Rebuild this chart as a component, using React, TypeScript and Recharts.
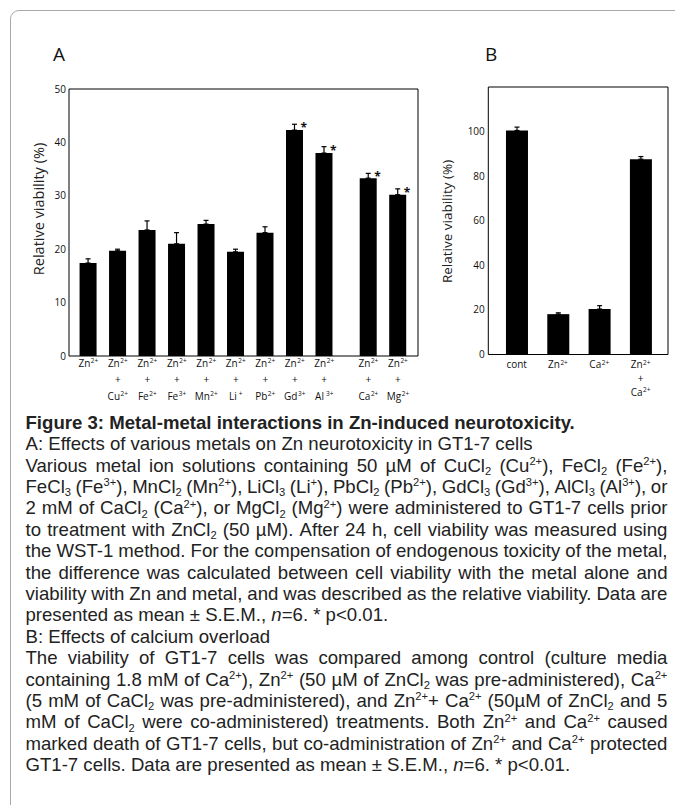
import React from "react";
import { ComposedChart, Bar, ErrorBar, XAxis, YAxis, Scatter, ReferenceLine } from "recharts";

// Panel A: Zn2+ alone or with a second metal
const posA = [0, 1, 2, 3, 4, 5, 6, 7, 8, 9.5, 10.5];
const ionsA = ["", "Cu", "Fe", "Fe", "Mn", "Li", "Pb", "Gd", "Al", "Ca", "Mg"];
const chargesA = ["", "2+", "2+", "3+", "2+", "+", "2+", "3+", "3+", "2+", "2+"];
const meanA = [17.4, 19.7, 23.6, 21.0, 24.7, 19.5, 23.1, 42.3, 38.0, 33.3, 30.2];
const semA = [0.8, 0.3, 1.7, 2.1, 0.7, 0.5, 1.1, 1.1, 1.2, 0.9, 1.1];
const starA = [false, false, false, false, false, false, false, true, true, true, true];
const yTicksA = [0, 10, 20, 30, 40, 50];

// Panel B: calcium overload
const posB = [0, 1, 2, 3];
const labelsB = ["cont", "Zn", "Ca", "Zn"];
const chargesB = ["", "2+", "2+", "2+"];
const meanB = [100.5, 18.1, 20.4, 87.6];
const semB = [1.5, 0.6, 1.5, 1.2];
const yTicksB = [0, 20, 40, 60, 80, 100];
const yTicksBFrame = [0, 20, 40, 60, 80, 100, 120];

const captionLines: [string, string][] = [
  ["Figure 3: Metal-metal interactions in Zn-induced neurotoxicity.", "b"],
  ["A: Effects of various metals on Zn neurotoxicity in GT1-7 cells", "l"],
  ["Various metal ion solutions containing 50 µM of CuCl_{2} (Cu^{2+}), FeCl_{2} (Fe^{2+}),", "j"],
  ["FeCl_{3} (Fe^{3+}), MnCl_{2} (Mn^{2+}), LiCl_{3} (Li^{+}), PbCl_{2} (Pb^{2+}), GdCl_{3} (Gd^{3+}), AlCl_{3} (Al^{3+}), or", "j"],
  ["2 mM of CaCl_{2} (Ca^{2+}), or MgCl_{2} (Mg^{2+}) were administered to GT1-7 cells prior", "j"],
  ["to treatment with ZnCl_{2} (50 µM). After 24 h, cell viability was measured using", "j"],
  ["the WST-1 method. For the compensation of endogenous toxicity of the metal,", "j"],
  ["the difference was calculated between cell viability with the metal alone and", "j"],
  ["viability with Zn and metal, and was described as the relative viability. Data are", "j"],
  ["presented as mean ± S.E.M., ~n~=6. * p<0.01.", "l"],
  ["B: Effects of calcium overload", "l"],
  ["The viability of GT1-7 cells was compared among control (culture media", "j"],
  ["containing 1.8 mM of Ca^{2+}), Zn^{2+} (50 µM of ZnCl_{2} was pre-administered), Ca^{2+}", "j"],
  ["(5 mM of CaCl_{2} was pre-administered), and Zn^{2+}+ Ca^{2+} (50µM of ZnCl_{2} and 5", "j"],
  ["mM of CaCl_{2} were co-administered) treatments. Both Zn^{2+} and Ca^{2+} caused", "j"],
  ["marked death of GT1-7 cells, but co-administration of Zn^{2+} and Ca^{2+} protected", "j"],
  ["GT1-7 cells. Data are presented as mean ± S.E.M., ~n~=6. * p<0.01.", "l"],
];

const chartFont = "'Open Sans', sans-serif";
const ink = "#111";
const lineH = 21.4;

const dataA = posA.map((pos, i) => ({ pos, value: meanA[i], err: [0, semA[i]] }));
const starsA = dataA.filter((_, i) => starA[i]).map(d => ({ pos: d.pos, top: d.value + d.err[1] }));
const dataB = posB.map((pos, i) => ({ pos, value: meanB[i], err: [0, semB[i]] }));

function TickA(props: any) {
  const { x, y, payload } = props;
  const i = posA.indexOf(payload.value);
  if (i < 0) return <g />;
  const ion = ionsA[i];
  const gap = ion === "Li" || ion === "Al" ? 2 : 0.5;
  return (
    <g fontFamily={chartFont} fill={ink} textAnchor="middle" fontSize={10}>
      <text x={x} y={y + 2.5}>Zn<tspan fontSize={6.5} dx={0.5} dy={-3.5}>2+</tspan></text>
      {ion && <text x={x} y={y + 19}>+</text>}
      {ion && (
        <text x={x} y={y + 35.5}>
          {ion}<tspan fontSize={6.5} dx={gap} dy={-3.5}>{chargesA[i]}</tspan>
        </text>
      )}
    </g>
  );
}

function TickB(props: any) {
  const { x, y, payload } = props;
  const i = posB.indexOf(payload.value);
  if (i < 0) return <g />;
  return (
    <g fontFamily={chartFont} fill={ink} textAnchor="middle" fontSize={10}>
      <text x={x} y={y + 5.5}>
        {labelsB[i]}
        {chargesB[i] && <tspan fontSize={6.5} dx={0.5} dy={-3.5}>{chargesB[i]}</tspan>}
      </text>
      {i === 3 && <text x={x} y={y + 19}>+</text>}
      {i === 3 && (
        <text x={x} y={y + 33}>Ca<tspan fontSize={6.5} dx={0.5} dy={-3.5}>2+</tspan></text>
      )}
    </g>
  );
}

function StarShape(props: any) {
  const { cx, cy } = props;
  if (cx == null || cy == null) return <g />;
  return (
    <text x={cx + 9} y={cy + 8} textAnchor="middle" fontSize={12} fontWeight={700} fontFamily={chartFont} fill={ink}>*</text>
  );
}

const yLabel = (cx: number, cy: number, size: number) => () => (
  <text x={cx} y={cy} transform={`rotate(-90 ${cx} ${cy})`} textAnchor="middle" dominantBaseline="central"
    fontSize={size} fontFamily={chartFont} fill="#222">Relative viability (%)</text>
);

const subStyle: React.CSSProperties = { fontSize: "0.6em", position: "relative", top: "0.3em", lineHeight: 0 };
const supStyle: React.CSSProperties = { fontSize: "0.6em", position: "relative", top: "-0.6em", lineHeight: 0 };

function rich(s: string) {
  return s.split(/(_\{[^}]*\}|\^\{[^}]*\}|~[^~]*~)/).filter(p => p !== "").map((p, i) => {
    if (p.startsWith("_{")) return <span key={i} style={subStyle}>{p.slice(2, -1)}</span>;
    if (p.startsWith("^{")) return <span key={i} style={supStyle}>{p.slice(2, -1)}</span>;
    if (p.startsWith("~")) return <i key={i}>{p.slice(1, -1)}</i>;
    return <React.Fragment key={i}>{p}</React.Fragment>;
  });
}

function Caption() {
  return (
    <div style={{ position: "absolute", left: 25.5, top: 411.9, width: 642, fontFamily: "'Liberation Sans', Arial, sans-serif", fontSize: 18.6, lineHeight: `${lineH}px`, color: "#222" }}>
      {captionLines.map(([text, mode], k) =>
        mode === "j" ? (
          <div key={k} style={{ display: "flex", justifyContent: "space-between", height: lineH, whiteSpace: "nowrap" }}>
            {text.split(" ").map((w, j) => <span key={j}>{rich(w)}</span>)}
          </div>
        ) : (
          <div key={k} style={{ height: lineH, whiteSpace: "nowrap", fontWeight: mode === "b" ? 700 : 400 }}>{rich(text)}</div>
        )
      )}
    </div>
  );
}

export default function App() {
  const axisLine = { stroke: "#000", strokeWidth: 1 };
  const tickText = { fontSize: 10, fill: ink, fontFamily: chartFont };
  return (
    <div style={{ position: "absolute", left: 0, top: 0, width: 675, height: 805, overflow: "hidden", background: "#fff" }}>
      <div style={{ position: "absolute", left: 10, top: 10, width: 720, height: 850, border: "1px solid #a9a9a9", borderRadius: 9 }} />
      <div style={{ position: "absolute", left: 53, top: 44.8, fontFamily: chartFont, fontSize: 19, lineHeight: "19px", color: ink }}>A</div>
      <div style={{ position: "absolute", left: 485, top: 44.8, fontFamily: chartFont, fontSize: 19, lineHeight: "19px", color: ink }}>B</div>

      <div style={{ position: "absolute", left: 0, top: 0 }}>
        <ComposedChart width={440} height={410} data={dataA} margin={{ top: 89, right: 22, bottom: 4, left: 39 }}>
          <XAxis dataKey="pos" type="number" domain={[-0.655, 11.18]} allowDataOverflow ticks={posA} interval={0}
            tickLine={false} axisLine={axisLine} height={50} tick={(p: any) => <TickA {...p} />} />
          <YAxis yAxisId="y" domain={[0, 50]} ticks={yTicksA} interval={0} width={30} tickSize={0} tickMargin={3}
            axisLine={axisLine} tick={tickText} label={yLabel(38.3, 209, 14.5)} />
          <YAxis yAxisId="yl" orientation="left" mirror domain={[0, 50]} ticks={yTicksA} interval={0}
            tick={false} tickSize={4} axisLine={false} tickLine={axisLine} />
          <YAxis yAxisId="yr" orientation="right" mirror domain={[0, 50]} ticks={yTicksA} interval={0}
            tick={false} tickSize={5} axisLine={axisLine} tickLine={axisLine} />
          <ReferenceLine yAxisId="y" y={50} stroke="#000" strokeWidth={1} />
          <Bar yAxisId="y" dataKey="value" fill="#000" barSize={17} isAnimationActive={false}>
            <ErrorBar dataKey="err" width={2.5} stroke="#000" strokeWidth={1.2} />
          </Bar>
          <Scatter yAxisId="y" data={starsA} dataKey="top" shape={StarShape} isAnimationActive={false} />
        </ComposedChart>
      </div>

      <div style={{ position: "absolute", left: 430, top: 0 }}>
        <ComposedChart width={245} height={410} data={dataB} margin={{ top: 87, right: 7, bottom: 5.5, left: 28.3 }}>
          <XAxis dataKey="pos" type="number" domain={[-0.686, 3.664]} allowDataOverflow ticks={posB} interval={0}
            tickLine={false} axisLine={axisLine} height={50} tick={(p: any) => <TickB {...p} />} />
          <YAxis yAxisId="y" domain={[0, 120]} ticks={yTicksB} interval={0} width={30} tickSize={0} tickMargin={3.5}
            axisLine={axisLine} tick={tickText} label={yLabel(446.7 - 430, 221.5, 13.5)} />
          <YAxis yAxisId="yl" orientation="left" mirror domain={[0, 120]} ticks={yTicksB} interval={0}
            tick={false} tickSize={4} axisLine={false} tickLine={axisLine} />
          <YAxis yAxisId="yr" orientation="right" mirror domain={[0, 120]} ticks={yTicksBFrame} interval={0}
            tick={false} tickSize={5} axisLine={axisLine} tickLine={axisLine} />
          <ReferenceLine yAxisId="y" y={120} stroke="#000" strokeWidth={1} />
          <Bar yAxisId="y" dataKey="value" fill="#000" barSize={22} isAnimationActive={false}>
            <ErrorBar dataKey="err" width={2.5} stroke="#000" strokeWidth={1.2} />
          </Bar>
        </ComposedChart>
      </div>

      <Caption />
    </div>
  );
}
